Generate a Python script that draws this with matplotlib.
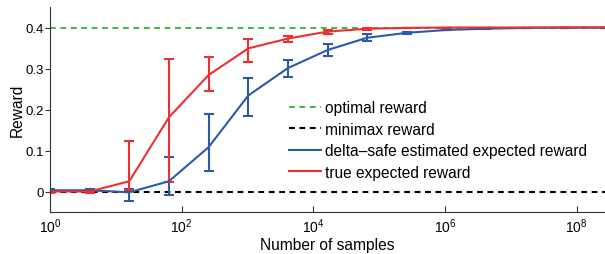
import numpy as np
import matplotlib
matplotlib.use("Agg")
import matplotlib.pyplot as plt
from matplotlib.lines import Line2D

plt.rcParams['font.family'] = ['Liberation Sans', 'DejaVu Sans']

samples = [4 ** k for k in range(15)]

true_reward = [0.0, 0.0, 0.025, 0.181, 0.284, 0.349, 0.373, 0.390, 0.397, 0.399,
               0.400, 0.400, 0.400, 0.400, 0.400]
true_low = [-0.003, -0.003, 0.003, 0.024, 0.246, 0.317, 0.365, 0.385, 0.395, 0.398,
            0.400, 0.400, 0.400, 0.400, 0.400]
true_high = [0.003, 0.003, 0.124, 0.322, 0.327, 0.371, 0.380, 0.394, 0.399, 0.400,
             0.400, 0.400, 0.400, 0.400, 0.400]

safe_reward = [0.003, 0.003, -0.002, 0.025, 0.108, 0.234, 0.301, 0.345, 0.375, 0.387,
               0.394, 0.397, 0.399, 0.400, 0.400]
safe_low = [-0.002, -0.002, -0.022, -0.008, 0.049, 0.184, 0.280, 0.331, 0.368, 0.385,
            0.393, 0.397, 0.399, 0.400, 0.400]
safe_high = [0.006, 0.007, 0.005, 0.084, 0.189, 0.277, 0.320, 0.359, 0.383, 0.389,
             0.395, 0.398, 0.399, 0.400, 0.400]

optimal = 0.4
minimax = 0.0

legend_labels = ['optimal reward', 'minimax reward',
                 'delta\u2013safe estimated expected reward', 'true expected reward']

green = '#44bb44'
blue = '#2b5aa8'
red = '#ee2f2f'

fig = plt.figure(figsize=(6.05, 2.55), dpi=100)
ax = fig.add_axes([50 / 605, 1 - 213 / 255, 555 / 605, 205 / 255])

dash = (0, (2.8, 2.2))
ax.axhline(optimal, color=green, lw=1.5, ls=dash)
ax.axhline(minimax, color='black', lw=1.5, ls=dash)


def yerr(mean, low, high):
    m = np.array(mean)
    return [m - np.array(low), np.array(high) - m]


ax.errorbar(samples, safe_reward, yerr=yerr(safe_reward, safe_low, safe_high),
            color=blue, lw=1.5, elinewidth=1.5, capsize=3.6, capthick=1.5)
ax.errorbar(samples, true_reward, yerr=yerr(true_reward, true_low, true_high),
            color=red, lw=1.5, elinewidth=1.5, capsize=3.6, capthick=1.5)

ax.set_xscale('log')
ax.set_xlim(1, 4 ** 14)
ax.set_ylim(-0.05, 0.45)
ax.set_xticks([1, 1e2, 1e4, 1e6, 1e8])
ax.minorticks_off()
ax.set_yticks([0, 0.1, 0.2, 0.3, 0.4])
ax.set_yticklabels(['0', '0.1', '0.2', '0.3', '0.4'])
ax.tick_params(axis='x', direction='in', labelsize=10, length=4, color='#333333')
ax.tick_params(axis='y', direction='out', labelsize=9.5, length=3.5, pad=1,
               color='#333333')
for s in ['top', 'right']:
    ax.spines[s].set_visible(False)
for s in ['left', 'bottom']:
    ax.spines[s].set_color('#333333')

ax.set_xlabel('Number of samples', fontsize=11.2, labelpad=1)
ax.set_ylabel('Reward', fontsize=11.2)
ax.yaxis.set_label_coords(-0.045, 0.5)

handles = [Line2D([], [], color=green, lw=1.5, ls=dash),
           Line2D([], [], color='black', lw=1.5, ls=dash),
           Line2D([], [], color=blue, lw=1.5),
           Line2D([], [], color=red, lw=1.5)]
ax.legend(handles, legend_labels, loc='upper left', bbox_to_anchor=(0.416, 0.584),
          frameon=False, fontsize=11.2, handlelength=2.1, handletextpad=0.25,
          labelspacing=0.42, borderpad=0)

fig.savefig('out.png', dpi=100)
